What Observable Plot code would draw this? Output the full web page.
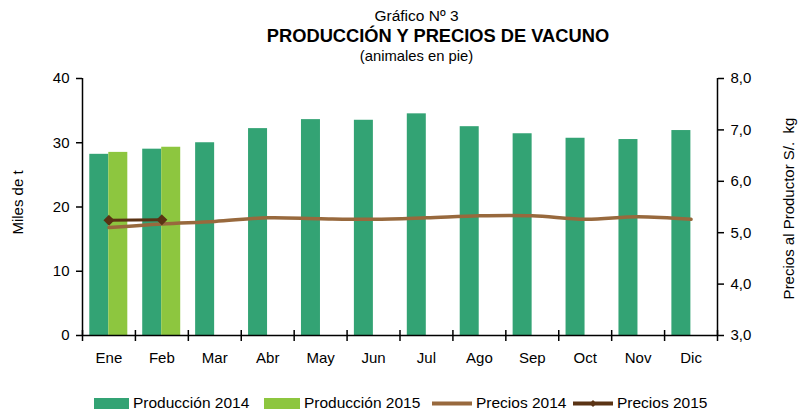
<!DOCTYPE html>
<html>
<head>
<meta charset="utf-8">
<script src="https://cdn.jsdelivr.net/npm/d3@7"></script>
<script src="https://cdn.jsdelivr.net/npm/@observablehq/plot@0.6"></script>
<style>
  body { margin: 0; background: #fff; font-family: "Liberation Sans", Arial, sans-serif; }
  #wrap { position: relative; width: 798px; height: 412px; overflow: hidden; }
  #chart { position: absolute; left: 0; top: 0; }
  .t { position: absolute; white-space: pre; color: #000; line-height: 1; }
  .vlab { position: absolute; white-space: pre; font-size: 15px; transform-origin: center center; }
  .leg { position: absolute; top: 394px; display: flex; align-items: center; font-size: 15.5px; white-space: pre; }
  .leg svg { display: block; margin-right: 4px; }
</style>
</head>
<body>
<div id="wrap">
  <div id="chart"></div>
  <div class="t" style="left:0;width:833px;text-align:center;top:7.5px;font-size:15.5px;">Gráfico Nº 3</div>
  <div class="t" style="left:0;width:876px;text-align:center;top:26.5px;font-size:18.3px;font-weight:bold;">PRODUCCIÓN Y PRECIOS DE VACUNO</div>
  <div class="t" style="left:0;width:833px;text-align:center;top:48.5px;font-size:14.8px;">(animales en pie)</div>
  <div class="vlab" id="ylabL">Miles de t</div>
  <div class="vlab" id="ylabR">Precios al Productor S/.  kg</div>
  <div id="legend"></div>
</div>
<script>
const months = ["Ene","Feb","Mar","Abr","May","Jun","Jul","Ago","Sep","Oct","Nov","Dic"];
const prod2014 = [28.2, 29.0, 30.0, 32.2, 33.6, 33.5, 34.5, 32.5, 31.4, 30.7, 30.5, 31.9];
const prod2015 = [28.5, 29.3];
const precios2014 = [5.10, 5.17, 5.22, 5.29, 5.27, 5.26, 5.29, 5.33, 5.33, 5.26, 5.31, 5.26];
const precios2015 = [5.24, 5.25];
const leftTicks = [0, 10, 20, 30, 40];
const rightTicks = [3, 4, 5, 6, 7, 8];
const seriesNames = ["Producción 2014", "Producción 2015", "Precios 2014", "Precios 2015"];

const colors = {
  p14: "#33a374",
  p15: "#8dc63f",
  pr14: "#98693d",
  pr15: "#5a3314"
};

const W = 798, H = 412;
const margin = {top: 78, right: 81, bottom: 77, left: 82};
const bw = (W - margin.left - margin.right) / months.length;

// price axis (3..8) mapped onto the production axis (0..40)
const pmin = 3, pmax = 8, ymax = 40;
const toY = p => (p - pmin) * ymax / (pmax - pmin);

const bars14 = months.map((m, i) => ({month: m, v: prod2014[i]}));
const bars15 = prod2015.map((v, i) => ({month: months[i], v}));
const line14 = months.map((m, i) => ({month: m, p: precios2014[i]}));
const line15 = precios2015.map((p, i) => ({month: months[i], p}));

const barW = 19, outer = 7.3;

const chart = Plot.plot({
  width: W,
  height: H,
  marginTop: margin.top,
  marginRight: margin.right,
  marginBottom: margin.bottom,
  marginLeft: margin.left,
  style: {fontFamily: "'Liberation Sans', Arial, sans-serif", fontSize: "15px", color: "#000", background: "transparent"},
  x: {domain: months, padding: 0, round: false, axis: null},
  y: {domain: [0, ymax], axis: null},
  marks: [
    Plot.barY(bars14, {x: "month", y: "v", fill: colors.p14, insetLeft: outer, insetRight: bw - outer - barW}),
    Plot.barY(bars15, {x: "month", y: "v", fill: colors.p15, insetLeft: outer + barW, insetRight: bw - outer - 2 * barW}),
    Plot.line(line14, {x: "month", y: d => toY(d.p), stroke: colors.pr14, strokeWidth: 3.5, curve: "catmull-rom"}),
    Plot.line(line15, {x: "month", y: d => toY(d.p), stroke: colors.pr15, strokeWidth: 3}),
    Plot.dot(line15, {x: "month", y: d => toY(d.p), symbol: "diamond2", r: 4, fill: colors.pr15, stroke: colors.pr15}),
    // axis lines
    Plot.ruleY([0], {stroke: "#000", strokeWidth: 1.5}),
    Plot.ruleX([months[0]], {y1: 0, y2: ymax, dx: -bw / 2, stroke: "#000", strokeWidth: 1.5}),
    Plot.ruleX([months[months.length - 1]], {y1: 0, y2: ymax, dx: bw / 2, stroke: "#000", strokeWidth: 1.5}),
    // category boundary ticks
    Plot.ruleX(months, {x: d => d, y1: 0, y2: 0, dx: -bw / 2, insetTop: -5, insetBottom: -6, stroke: "#000", strokeWidth: 1.5}),
    Plot.ruleX([months[months.length - 1]], {y1: 0, y2: 0, dx: bw / 2, insetTop: -5, insetBottom: -6, stroke: "#000", strokeWidth: 1.5}),
    Plot.axisY({anchor: "left", ticks: leftTicks, tickSize: 6, tickPadding: 7, strokeWidth: 1.5, label: null, fontSize: 15}),
    Plot.axisY({anchor: "right", ticks: rightTicks.map(toY), tickSize: 6, tickPadding: 7, strokeWidth: 1.5, label: null, fontSize: 15,
      tickFormat: d => (d * (pmax - pmin) / ymax + pmin).toFixed(1).replace(".", ",")}),
    Plot.axisX({anchor: "bottom", tickSize: 0, tickPadding: 17, label: null, fontSize: 15})
  ]
});
document.getElementById("chart").append(chart);

// rotated axis titles
function placeV(id, cx, cy) {
  const el = document.getElementById(id);
  const r = el.getBoundingClientRect();
  el.style.left = (cx - r.width / 2) + "px";
  el.style.top = (cy - r.height / 2) + "px";
  el.style.transform = "rotate(-90deg)";
}
placeV("ylabL", 17, 202);
placeV("ylabR", 789, 208);

// legend
const legend = document.getElementById("legend");
const legLefts = [94, 264, 432, 573];
const swatch = [
  `<svg width="35" height="11"><rect width="35" height="11" fill="${colors.p14}"/></svg>`,
  `<svg width="36" height="11"><rect width="36" height="11" fill="${colors.p15}"/></svg>`,
  `<svg width="40" height="11"><line x1="0" x2="40" y1="5.5" y2="5.5" stroke="${colors.pr14}" stroke-width="4"/></svg>`,
  `<svg width="40" height="11"><line x1="0" x2="40" y1="5.5" y2="5.5" stroke="${colors.pr15}" stroke-width="4"/><path d="M20 2 L23.5 5.5 L20 9 L16.5 5.5Z" fill="${colors.pr15}"/></svg>`
];
seriesNames.forEach((name, i) => {
  const d = document.createElement("div");
  d.className = "leg";
  d.style.left = legLefts[i] + "px";
  d.innerHTML = swatch[i] + `<span>${name}</span>`;
  legend.append(d);
});
</script>
</body>
</html>
